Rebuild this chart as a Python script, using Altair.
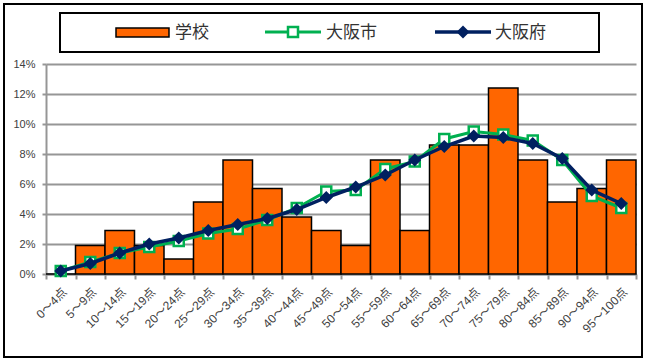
import altair as alt
import pandas as pd

cats = ["0～4点", "5～9点", "10～14点", "15～19点", "20～24点", "25～29点", "30～34点",
        "35～39点", "40～44点", "45～49点", "50～54点", "55～59点", "60～64点", "65～69点",
        "70～74点", "75～79点", "80～84点", "85～89点", "90～94点", "95～100点"]
school = [0.0, 1.9, 2.9, 1.9, 1.0, 4.8, 7.6, 5.7, 3.8, 2.9, 1.9, 7.6, 2.9, 8.6, 8.6,
          12.4, 7.6, 4.8, 5.7, 7.6]
city = [0.2, 0.8, 1.4, 1.8, 2.2, 2.7, 3.0, 3.6, 4.4, 5.5, 5.6, 7.0, 7.5, 9.0, 9.5,
        9.3, 8.9, 7.6, 5.2, 4.4]
pref = [0.2, 0.7, 1.4, 2.0, 2.4, 2.9, 3.3, 3.7, 4.3, 5.1, 5.8, 6.6, 7.6, 8.5, 9.2,
        9.1, 8.7, 7.7, 5.6, 4.7]
series_names = ["学校", "大阪市", "大阪府"]
y_ticks = [0, 2, 4, 6, 8, 10, 12, 14]

ORANGE = "#FF6600"
GREEN = "#00B050"
NAVY = "#002060"
GRID = "#969696"
FONT = "Liberation Sans, Noto Sans CJK JP"
CJK = "Noto Sans CJK JP, Liberation Sans"

df = pd.DataFrame({"cat": cats, "school": school, "city": city, "pref": pref})

xenc = alt.X("cat:N", sort=cats, title=None,
             scale=alt.Scale(paddingInner=0, paddingOuter=0))
yscale = alt.Scale(domain=[0, 14])
yaxis = alt.Axis(values=y_ticks, labelExpr="datum.value + '%'", tickCount=8)


def yenc(field):
    return alt.Y(f"{field}:Q", scale=yscale, title=None, axis=yaxis)


base = alt.Chart(df)

bars = base.mark_bar(color=ORANGE, stroke="black", strokeWidth=1.5).encode(
    x=xenc, y=yenc("school"))

city_line = base.mark_line(color=GREEN, strokeWidth=3).encode(
    x=xenc, y=yenc("city"))
city_pts = base.mark_point(shape="square", filled=True, fill="white", stroke=GREEN,
                           strokeWidth=2.5, size=100, opacity=1).encode(
    x=xenc, y=yenc("city"))
pref_line = base.mark_line(color=NAVY, strokeWidth=3.5).encode(
    x=xenc, y=yenc("pref"))
pref_pts = base.mark_point(shape="diamond", filled=True, color=NAVY, size=170,
                           opacity=1).encode(
    x=xenc, y=yenc("pref"))

one = pd.DataFrame({"a": [0]})
deco = alt.Chart(one)

outer = deco.mark_rect(fill="transparent", stroke="black", strokeWidth=2).encode(
    x=alt.value(-42), x2=alt.value(596), y=alt.value(-60), y2=alt.value(293))
legbox = deco.mark_rect(fill="white", stroke="black", strokeWidth=2).encode(
    x=alt.value(14), x2=alt.value(553), y=alt.value(-51), y2=alt.value(-12))
leg_sw = deco.mark_rect(fill=ORANGE, stroke="black", strokeWidth=1.5).encode(
    x=alt.value(70), x2=alt.value(123), y=alt.value(-36), y2=alt.value(-27))
leg_g_line = deco.mark_rule(color=GREEN, strokeWidth=3).encode(
    x=alt.value(219), x2=alt.value(275), y=alt.value(-32))
leg_g_pt = deco.mark_point(shape="square", filled=True, fill="white", stroke=GREEN,
                           strokeWidth=2.5, size=100, opacity=1).encode(
    x=alt.value(247), y=alt.value(-32))
leg_n_line = deco.mark_rule(color=NAVY, strokeWidth=3.5).encode(
    x=alt.value(389), x2=alt.value(445), y=alt.value(-32))
leg_n_pt = deco.mark_point(shape="diamond", filled=True, color=NAVY, size=170,
                           opacity=1).encode(
    x=alt.value(417), y=alt.value(-32))


def leg_text(i, xpos):
    return deco.mark_text(align="left", baseline="middle", fontSize=17, font=CJK,
                          color="#333333", text=series_names[i]).encode(
        x=alt.value(xpos), y=alt.value(-31))


chart = alt.layer(
    outer, bars, city_line, city_pts, pref_line, pref_pts,
    legbox, leg_sw, leg_g_line, leg_g_pt, leg_n_line, leg_n_pt,
    leg_text(0, 129), leg_text(1, 280), leg_text(2, 449),
).properties(
    width=590, height=210,
    autosize=alt.AutoSizeParams(type="none"),
    padding={"left": 46, "top": 64, "right": 10, "bottom": 87},
).configure(
    font=FONT,
).configure_view(
    stroke=None,
).configure_axisX(
    labelAngle=-45, labelFontSize=12, labelColor="#404040", labelFont=FONT,
    domainColor=GRID, domainWidth=2, tickColor=GRID, tickWidth=2, tickSize=5,
    tickBand="extent", labelPadding=7, grid=False,
).configure_axisY(
    labelFontSize=11, labelColor="#404040", labelFont=FONT,
    domainColor=GRID, domainWidth=2, tickColor=GRID, tickWidth=2, tickSize=4,
    gridColor=GRID, gridWidth=2, labelPadding=7,
)

chart.save("out.html", embed_options={"renderer": "svg", "actions": False})
